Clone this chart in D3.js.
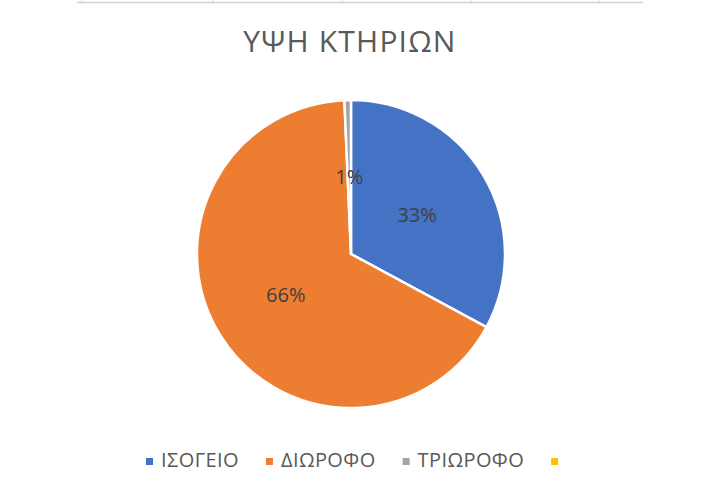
<!DOCTYPE html>
<html>
<head>
<meta charset="utf-8">
<script src="https://cdn.jsdelivr.net/npm/d3@7"></script>
<style>
  body { margin: 0; background: #fff; }
  text { font-family: "Open Sans", "Noto Sans", sans-serif; }
</style>
</head>
<body>
<script>
// data
const title = "ΥΨΗ ΚΤΗΡΙΩΝ";
const categories = ["ΙΣΟΓΕΙΟ", "ΔΙΩΡΟΦΟ", "ΤΡΙΩΡΟΦΟ", ""];
const values = [48, 97, 1, 0];
const colors = ["#4472C4", "#ED7D31", "#A5A5A5", "#FFC000"];
const gridX = [82, 213, 342, 471, 599];

const w = 715;
const h = 500;
const cx = 351;
const cy = 254;
const r = 154;

const svg = d3.select("body").append("svg")
  .attr("width", w)
  .attr("height", h);

// faint spreadsheet grid at the very top
svg.append("line")
  .attr("x1", 77).attr("x2", 643)
  .attr("y1", 2.5).attr("y2", 2.5)
  .attr("stroke", "#d4d4d4")
  .attr("stroke-width", 1.5);
svg.selectAll(".grid")
  .data(gridX)
  .enter()
  .append("line")
  .attr("class", "grid")
  .attr("x1", (d) => d).attr("x2", (d) => d)
  .attr("y1", 0).attr("y2", 4)
  .attr("stroke", "#dcdcdc");

// title
svg.append("text")
  .attr("x", 350)
  .attr("y", 52)
  .attr("text-anchor", "middle")
  .attr("font-size", 30)
  .attr("letter-spacing", 1.2)
  .attr("fill", "#595959")
  .text(title);

// pie
const data = categories.map((c, i) => ({ name: c, value: values[i], color: colors[i] }));
const pie = d3.pie().sort(null).value((d) => d.value);
const arc = d3.arc().innerRadius(0).outerRadius(r);
const arcs = pie(data).filter((d) => d.data.value > 0);

const g = svg.append("g").attr("transform", "translate(" + cx + "," + cy + ")");

g.selectAll("path")
  .data(arcs)
  .enter()
  .append("path")
  .attr("d", arc)
  .attr("fill", (d) => d.data.color)
  .attr("stroke", "#fff")
  .attr("stroke-width", 2.5)
  .attr("stroke-linejoin", "miter");

const total = d3.sum(values);
g.selectAll(".lbl")
  .data(arcs)
  .enter()
  .append("text")
  .attr("class", "lbl")
  .attr("transform", (d) => "translate(" + arc.centroid(d) + ")")
  .attr("text-anchor", "middle")
  .attr("dy", "0.35em")
  .attr("font-size", 20)
  .attr("fill", "#404040")
  .text((d) => Math.round((d.data.value / total) * 100) + "%");

// legend
const legend = svg.append("g").attr("transform", "translate(0,467)");
const items = legend.selectAll(".item")
  .data(data)
  .enter()
  .append("g")
  .attr("class", "item");

items.append("rect")
  .attr("width", 7)
  .attr("height", 7)
  .attr("y", -9)
  .attr("fill", (d) => d.color);

items.append("text")
  .attr("x", 15)
  .attr("font-size", 20)
  .attr("letter-spacing", 0.4)
  .attr("fill", "#595959")
  .text((d) => d.name);

let xPos = 146;
items.each(function () {
  const node = d3.select(this);
  node.attr("transform", "translate(" + xPos + ",0)");
  const tw = node.select("text").node().getComputedTextLength();
  xPos += 15 + tw + 27;
});
</script>
</body>
</html>
